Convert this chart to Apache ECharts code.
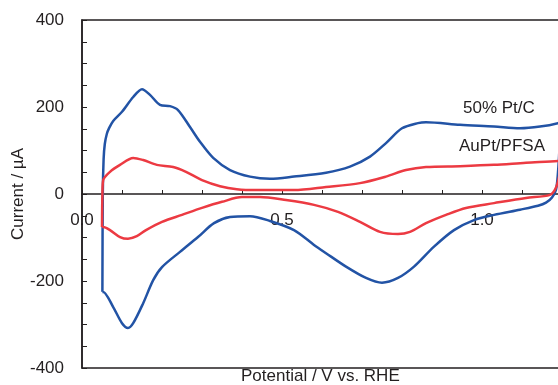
<!DOCTYPE html>
<html>
<head>
<meta charset="utf-8">
<script src="https://cdn.jsdelivr.net/npm/echarts@6/dist/echarts.min.js"></script>
<style>html,body{margin:0;padding:0;background:#fff;}#c{width:558px;height:385px;}</style>
</head>
<body>
<div id="c"></div>
<script>
// 50% Pt/C cyclic voltammogram (potential V vs RHE, current µA)
const ptPotential = [0.051,0.052,0.054,0.057,0.062,0.068,0.078,0.100,0.128,0.150,0.170,0.195,0.220,0.240,0.270,0.295,0.328,0.370,0.420,0.470,0.530,0.610,0.670,0.720,0.760,0.800,0.840,0.860,0.945,1.030,1.095,1.145,1.190,1.200,
  1.195,1.190,1.185,1.175,1.160,1.140,1.095,1.030,0.980,0.930,0.880,0.830,0.790,0.750,0.710,0.660,0.610,0.580,0.530,0.470,0.420,0.370,0.330,0.290,0.245,0.200,0.178,0.153,0.128,0.115,0.100,0.078,0.053,0.051];
const ptCurrent = [-225,0,80,115,138,152,168,189,223,241,228,205,202,193,154,120,83,55,40,35,40,49,63,86,117,151,163,165,159,155,151,155,163,168,
  120,50,10,-8,-20,-27,-36,-48,-60,-83,-121,-167,-193,-204,-193,-167,-136,-117,-83,-62,-51,-53,-67,-99,-133,-168,-198,-251,-297,-308,-297,-260,-225,-225];
// AuPt/PFSA cyclic voltammogram
const auPotential = [0.050,0.051,0.053,0.070,0.095,0.128,0.153,0.187,0.228,0.260,0.300,0.345,0.387,0.437,0.530,0.610,0.695,0.760,0.810,0.860,0.945,1.030,1.110,1.190,1.200,
  1.195,1.185,1.170,1.110,1.030,0.960,0.910,0.860,0.820,0.790,0.745,0.695,0.640,0.580,0.510,0.445,0.400,0.350,0.300,0.250,0.200,0.160,0.137,0.115,0.095,0.070,0.053,0.050];
const auCurrent = [-76,0,32,51,67,83,78,67,62,51,32,18,11,9,9,16,25,40,55,62,64,67,72,76,78,
  50,15,-2,-9,-21,-32,-48,-67,-87,-92,-87,-64,-41,-25,-14,-7,-7,-18,-32,-48,-64,-83,-97,-103,-99,-83,-76,-76];
const seriesNames = ['50% Pt/C', 'AuPt/PFSA'];
const yTicks = [-400, -200, 0, 200, 400];
const xLabelValues = [0.0, 0.5, 1.0];
const xTitle = 'Potential / V vs. RHE';
const yTitle = 'Current / µA';

const FONT = '"Liberation Sans", Arial, Helvetica, sans-serif';
const TXT = '#231f20';
const GRID_H = 348;
function zip(a, b) { return a.map((v, i) => [v, b[i]]); }

const chart = echarts.init(document.getElementById('c'), null, {renderer: 'canvas'});
chart.setOption({
  animation: false,
  grid: {left: 82, top: 20, width: 480, height: GRID_H, show: true, borderColor: '#231f20', borderWidth: 1.5,
    backgroundColor: 'transparent', containLabel: false, outerBoundsMode: 'none'},
  xAxis: {
    type: 'value', min: 0, max: 1.2, interval: 0.1, position: 'bottom',
    offset: -GRID_H / 2,
    axisLine: {onZero: false, lineStyle: {color: '#231f20', width: 1.5}},
    axisTick: {inside: true, length: 4, lineStyle: {color: '#231f20', width: 1}},
    splitLine: {show: false},
    axisLabel: {
      margin: 18, fontSize: 17, fontFamily: FONT, color: TXT,
      formatter: v => xLabelValues.some(t => Math.abs(t - v) < 1e-6) ? v.toFixed(1) : ''
    }
  },
  yAxis: {
    type: 'value', min: -400, max: 400, interval: 200,
    axisLine: {show: true, onZero: false, lineStyle: {color: '#231f20', width: 1.5}},
    axisTick: {show: true, inside: true, length: 5, lineStyle: {color: '#231f20', width: 1}},
    minorTick: {show: true, splitNumber: 4, length: 5, lineStyle: {color: '#231f20', width: 1}},
    splitLine: {show: false},
    axisLabel: {margin: 18, fontSize: 17, fontFamily: FONT, color: TXT,
      formatter: v => yTicks.includes(v) ? String(v) : ''}
  },
  graphic: [
    {type: 'text', left: 463, top: 100, style: {text: seriesNames[0], font: '17px ' + FONT, fill: TXT}},
    {type: 'text', left: 459, top: 138, style: {text: seriesNames[1], font: '17px ' + FONT, fill: TXT}},
    {type: 'text', left: 241, top: 368, style: {text: xTitle, font: '17px ' + FONT, fill: TXT}},
    {type: 'text', x: 18, y: 194, rotation: Math.PI / 2,
      style: {text: yTitle, font: '17px ' + FONT, fill: TXT, align: 'center', verticalAlign: 'middle'}}
  ],
  series: [
    {name: seriesNames[0], type: 'line', data: zip(ptPotential, ptCurrent), showSymbol: false, smooth: 0.3,
      lineStyle: {color: '#2253a5', width: 2.5}, itemStyle: {color: '#2253a5'}},
    {name: seriesNames[1], type: 'line', data: zip(auPotential, auCurrent), showSymbol: false, smooth: 0.3,
      lineStyle: {color: '#ec3a42', width: 2.5}, itemStyle: {color: '#ec3a42'}}
  ]
});
</script>
</body>
</html>
